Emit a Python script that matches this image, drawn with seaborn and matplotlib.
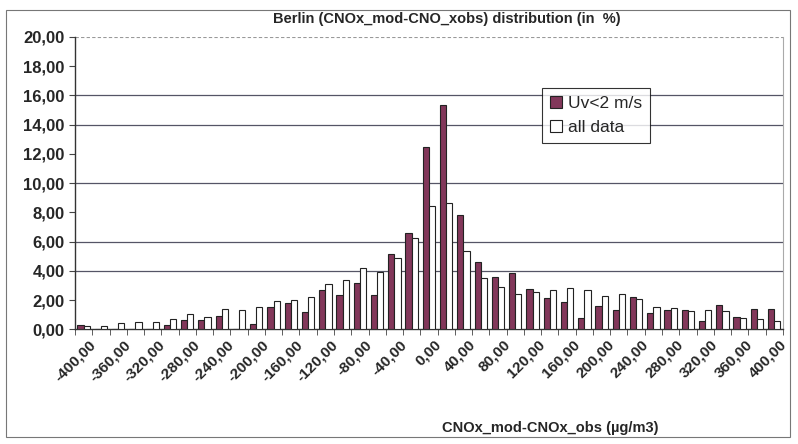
import matplotlib
matplotlib.use("Agg")
import matplotlib.pyplot as plt
from matplotlib.patches import Rectangle
import numpy as np
import pandas as pd
import seaborn as sns

# x classes, -400 .. 400 by 20
classes = list(range(-400, 401, 20))
low_wind = [0.3, 0, 0, 0, 0, 0.3, 0.63, 0.65, 0.92, 0,
            0.35, 1.52, 1.79, 1.2, 2.7, 2.38, 3.18, 2.38, 5.18, 6.6,
            12.5, 15.36, 7.81, 4.62, 3.57, 3.86, 2.76, 2.18, 1.88, 0.79,
            1.6, 1.31, 2.24, 1.13, 1.34, 1.33, 0.58, 1.68, 0.88, 1.4, 1.4]
all_data = [0.25, 0.25, 0.45, 0.5, 0.5, 0.7, 1.08, 0.85, 1.38, 1.33,
            1.56, 1.93, 2.0, 2.22, 3.11, 3.4, 4.2, 3.93, 4.89, 6.24,
            8.45, 8.63, 5.37, 3.54, 2.89, 2.41, 2.54, 2.68, 2.86, 2.7,
            2.27, 2.45, 2.06, 1.56, 1.45, 1.27, 1.31, 1.27, 0.77, 0.72, 0.6]
series = ["Uv<2 m/s", "all data"]
grid_vals = [4, 6, 10, 14, 16]

labels = [f"{c:.2f}".replace(".", ",") for c in classes]
df = pd.DataFrame({
    "cls": labels * 2,
    "val": low_wind + all_data,
    "series": [series[0]] * len(classes) + [series[1]] * len(classes),
})

sns.set_style("white")
plt.rcParams["font.family"] = ["Liberation Sans", "DejaVu Sans"]

fig = plt.figure(figsize=(7.98, 4.44), dpi=100)
ax = fig.add_axes([0.094, 0.258, 0.887, 0.659])
ax.set_axisbelow(True)

sns.barplot(data=df, x="cls", y="val", hue="series", order=labels,
            palette=["#8e2a5a", "white"], edgecolor="#222222", linewidth=0.8,
            width=0.72, ax=ax, zorder=3)

for g in grid_vals:
    ax.axhline(g, color="#555566", lw=0.9, zorder=0)
ax.axhline(20, color="#999999", lw=0.8, ls=(0, (3, 2)), zorder=0)

ax.set_ylim(0, 20)
ax.set_xlim(-0.5, len(classes) - 0.5)
ax.set_yticks(np.arange(0, 21, 2))
ax.set_yticklabels([f"{v:.2f}".replace(".", ",") for v in np.arange(0, 21, 2)],
                   fontsize=12, fontweight="bold")
ax.set_xticks(np.arange(0, len(classes), 2) + 0.3)
ax.set_xticklabels(labels[::2], rotation=45, ha="right", rotation_mode="anchor",
                   fontsize=11, fontweight="bold")
ax.set_xticks(np.arange(-0.5, len(classes), 1), minor=True)
ax.tick_params(axis="x", which="major", length=0, pad=6)
ax.tick_params(axis="x", which="minor", length=4, color="#444444", bottom=True)
ax.tick_params(axis="y", length=4, color="#444444", left=True)

for s in ["left", "bottom"]:
    ax.spines[s].set_color("#333333")
    ax.spines[s].set_linewidth(1.0)
ax.spines["right"].set_color("#aaaaaa")
ax.spines["top"].set_visible(False)

ax.set_xlabel("")
ax.set_ylabel("")
fig.text(0.69, 0.035, "CNOx_mod-CNOx_obs (µg/m3)", ha="center", va="center",
         fontsize=10.5, fontweight="bold")
fig.text(0.56, 0.957, "Berlin (CNOx_mod-CNO_xobs) distribution (in  %)",
         ha="center", va="center", fontsize=10.5, fontweight="bold")

leg = ax.legend(loc="upper left", bbox_to_anchor=(0.668, 0.822),
                bbox_transform=fig.transFigure, fontsize=12.5, frameon=True,
                fancybox=False, edgecolor="black", borderpad=0.45,
                handlelength=0.7, handleheight=0.7, handletextpad=0.35,
                labelspacing=0.55)
leg.get_frame().set_linewidth(0.8)

fig.patches.append(Rectangle((0.008, 0.015), 0.982, 0.962, transform=fig.transFigure,
                             fill=False, edgecolor="#777777", lw=0.8))

fig.savefig("out.png", dpi=100)
